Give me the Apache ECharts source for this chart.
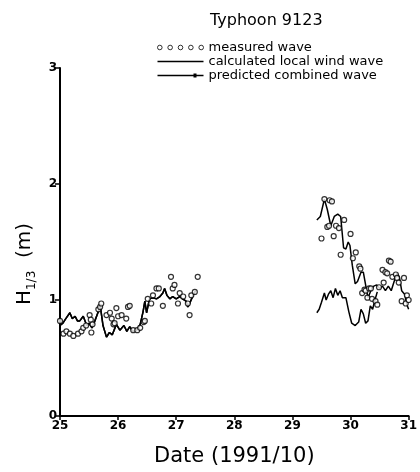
<!DOCTYPE html>
<html>
<head>
<meta charset="utf-8">
<script src="https://cdn.jsdelivr.net/npm/echarts@6/dist/echarts.min.js"></script>
<style>
  html, body { margin: 0; padding: 0; background: #fff; }
  #chart { width: 420px; height: 472px; }
</style>
</head>
<body>
<div id="chart"></div>
<script>
// measured wave, first record (25 - 27.4)
const measDays1 = [25.00, 25.06, 25.11, 25.17, 25.23, 25.31, 25.37, 25.40, 25.45, 25.51, 25.53, 25.54, 25.56, 25.66, 25.69, 25.71, 25.80, 25.86, 25.89, 25.92, 25.94, 25.97, 26.00, 26.06, 26.14, 26.17, 26.20, 26.26, 26.33, 26.38, 26.44, 26.46, 26.51, 26.57, 26.60, 26.66, 26.70, 26.77, 26.91, 26.94, 26.97, 27.03, 27.06, 27.12, 27.20, 27.23, 27.26, 27.32, 27.37]
const measH1 = [0.82, 0.71, 0.73, 0.71, 0.69, 0.71, 0.73, 0.76, 0.78, 0.87, 0.83, 0.72, 0.79, 0.92, 0.94, 0.97, 0.87, 0.89, 0.84, 0.79, 0.80, 0.93, 0.86, 0.87, 0.84, 0.94, 0.95, 0.74, 0.74, 0.76, 0.81, 0.82, 1.01, 0.97, 1.04, 1.10, 1.10, 0.95, 1.20, 1.10, 1.13, 0.97, 1.06, 1.03, 0.97, 0.87, 1.04, 1.07, 1.20]
// measured wave, second record (29.5 - 31)
const measDays2 = [29.50, 29.55, 29.60, 29.63, 29.64, 29.68, 29.71, 29.75, 29.80, 29.83, 29.89, 30.00, 30.04, 30.09, 30.15, 30.17, 30.20, 30.24, 30.26, 30.29, 30.32, 30.35, 30.37, 30.43, 30.46, 30.49, 30.55, 30.57, 30.60, 30.63, 30.66, 30.69, 30.72, 30.78, 30.80, 30.83, 30.88, 30.92, 30.95, 30.97, 31.00]
const measH2 = [1.53, 1.87, 1.63, 1.64, 1.86, 1.85, 1.55, 1.64, 1.62, 1.39, 1.69, 1.57, 1.36, 1.41, 1.29, 1.27, 1.06, 1.09, 1.08, 1.02, 1.10, 1.10, 1.01, 0.99, 0.96, 1.11, 1.26, 1.15, 1.24, 1.23, 1.34, 1.33, 1.20, 1.22, 1.19, 1.15, 0.99, 1.19, 0.97, 1.04, 1.00]

// calculated local wind wave (first record: identical to combined wave)
const windDays1 = [25.00, 25.05, 25.10, 25.17, 25.21, 25.26, 25.30, 25.34, 25.40, 25.46, 25.50, 25.55, 25.60, 25.66, 25.69, 25.74, 25.80, 25.85, 25.90, 25.97, 26.03, 26.10, 26.15, 26.20, 26.25, 26.32, 26.38, 26.43, 26.46, 26.49, 26.54, 26.60, 26.66, 26.72, 26.77, 26.80, 26.84, 26.89, 26.94, 27.00, 27.06, 27.11, 27.17, 27.20, 27.24, 27.29, 27.33]
const windH1 = [0.78, 0.80, 0.84, 0.89, 0.84, 0.86, 0.82, 0.82, 0.86, 0.78, 0.80, 0.76, 0.82, 0.90, 0.96, 0.78, 0.68, 0.72, 0.70, 0.79, 0.74, 0.78, 0.73, 0.77, 0.73, 0.74, 0.79, 0.90, 0.99, 0.89, 1.01, 1.02, 1.01, 1.03, 1.06, 1.10, 1.04, 1.01, 1.03, 1.01, 1.03, 1.01, 0.99, 0.94, 0.98, 1.04, 1.08]
const windDays2 = [29.42, 29.46, 29.50, 29.55, 29.58, 29.62, 29.66, 29.70, 29.74, 29.78, 29.82, 29.86, 29.92, 29.97, 30.02, 30.08, 30.14, 30.18, 30.22, 30.26, 30.30, 30.34, 30.38, 30.42, 30.46]
const windH2 = [0.89, 0.92, 0.98, 1.06, 1.00, 1.05, 1.08, 1.02, 1.10, 1.04, 1.08, 1.02, 1.02, 0.90, 0.80, 0.78, 0.81, 0.92, 0.88, 0.80, 0.82, 0.95, 0.92, 1.00, 1.07]

// predicted combined wave, second record
const combDays2 = [29.42, 29.48, 29.55, 29.60, 29.66, 29.72, 29.78, 29.83, 29.88, 29.92, 29.96, 29.99, 30.03, 30.08, 30.12, 30.18, 30.22, 30.27, 30.30, 30.35, 30.40, 30.45, 30.50, 30.55, 30.60, 30.65, 30.70, 30.75, 30.80, 30.84, 30.88, 30.93, 30.97, 31.00]
const combH2 = [1.69, 1.72, 1.87, 1.78, 1.64, 1.72, 1.74, 1.72, 1.45, 1.44, 1.50, 1.47, 1.30, 1.14, 1.16, 1.24, 1.24, 1.10, 1.02, 1.08, 1.12, 1.13, 1.10, 1.12, 1.08, 1.12, 1.08, 1.16, 1.23, 1.20, 1.08, 1.05, 0.96, 0.92]

const xTicks = [25, 26, 27, 28, 29, 30, 31]
const yTicks = [0, 1, 2, 3]

function pairs(days, vals) {
  return days.map((d, i) => [d, vals[i]])
}

const FONT = 'DejaVu Sans'
const lineStyle = { color: '#000', width: 1.5 }
const dotsIcon = 'path://M2,2m-2,0a2,2 0 1,0 4,0a2,2 0 1,0 -4,0M11,2m-2,0a2,2 0 1,0 4,0a2,2 0 1,0 -4,0M20,2m-2,0a2,2 0 1,0 4,0a2,2 0 1,0 -4,0M29,2m-2,0a2,2 0 1,0 4,0a2,2 0 1,0 -4,0M38,2m-2,0a2,2 0 1,0 4,0a2,2 0 1,0 -4,0'
const lineIcon = 'path://M0,0h46v1.6h-46z'
const combIcon = 'path://M0,0h46v1.6h-46zM36,-1.2h3v4h-3z'

let myChart = echarts.init(document.getElementById('chart'))
myChart.setOption({
  animation: false,
  backgroundColor: '#fff',
  title: {
    text: 'Typhoon 9123',
    left: 205,
    top: 8,
    textStyle: { fontFamily: FONT, fontSize: 16, fontWeight: 'normal', color: '#000' }
  },
  legend: {
    orient: 'vertical',
    left: 152,
    top: 36,
    itemWidth: 46,
    itemHeight: 6,
    itemGap: 1,
    textStyle: { fontFamily: FONT, fontSize: 13, color: '#000' },
    data: [
      { name: 'measured wave', icon: dotsIcon, itemStyle: { color: '#fff', borderColor: '#000', borderWidth: 1 } },
      { name: 'calculated local wind wave', icon: lineIcon, itemStyle: { color: '#000', borderWidth: 0 } },
      { name: 'predicted combined wave', icon: combIcon, itemStyle: { color: '#000', borderWidth: 0 } }
    ]
  },
  grid: { left: 60, right: 10, top: 68, bottom: 49 },
  xAxis: {
    type: 'value',
    min: xTicks[0],
    max: xTicks[xTicks.length - 1],
    interval: 1,
    name: 'Date (1991/10)',
    nameLocation: 'middle',
    nameGap: 30,
    nameTextStyle: { fontFamily: FONT, fontSize: 21, color: '#000' },
    axisLine: { lineStyle: { color: '#000', width: 2 } },
    axisTick: { length: 4, lineStyle: { color: '#000', width: 1.5 } },
    axisLabel: { fontFamily: FONT, fontSize: 12, fontWeight: 'bold', color: '#000', margin: 4 },
    splitLine: { show: false }
  },
  yAxis: {
    type: 'value',
    min: yTicks[0],
    max: yTicks[yTicks.length - 1],
    interval: 1,
    name: '{h|H}{s|1/3}{h|  (m)}',
    nameLocation: 'middle',
    nameGap: 22,
    nameRotate: 90,
    nameTextStyle: {
      padding: [0, 44, 0, 0],
      rich: {
        h: { fontFamily: FONT, fontSize: 20, color: '#000', lineHeight: 26 },
        s: { fontFamily: FONT, fontSize: 12, color: '#000', verticalAlign: 'bottom', lineHeight: 26 }
      }
    },
    axisLine: { show: true, lineStyle: { color: '#000', width: 2 } },
    axisTick: { show: true, length: 5, lineStyle: { color: '#000', width: 1.5 } },
    axisLabel: { fontFamily: FONT, fontSize: 12, fontWeight: 'bold', color: '#000', margin: 3 },
    splitLine: { show: false }
  },
  series: [
    {
      name: 'calculated local wind wave', type: 'line', symbol: 'none',
      lineStyle: lineStyle, itemStyle: { color: '#000' },
      data: pairs(windDays1, windH1)
    },
    {
      name: 'calculated local wind wave', type: 'line', symbol: 'none',
      lineStyle: lineStyle, itemStyle: { color: '#000' },
      data: pairs(windDays2, windH2)
    },
    {
      name: 'predicted combined wave', type: 'line', symbol: 'none',
      lineStyle: lineStyle, itemStyle: { color: '#000' },
      data: pairs(windDays1, windH1)
    },
    {
      name: 'predicted combined wave', type: 'line', symbol: 'none',
      lineStyle: lineStyle, itemStyle: { color: '#000' },
      data: pairs(combDays2, combH2)
    },
    {
      name: 'measured wave', type: 'scatter', symbol: 'circle', symbolSize: 5, z: 5,
      itemStyle: { color: '#fff', borderColor: '#000', borderWidth: 1.2 },
      data: pairs(measDays1, measH1)
    },
    {
      name: 'measured wave', type: 'scatter', symbol: 'circle', symbolSize: 5, z: 5,
      itemStyle: { color: '#fff', borderColor: '#000', borderWidth: 1.2 },
      data: pairs(measDays2, measH2)
    }
  ]
})
</script>
</body>
</html>
